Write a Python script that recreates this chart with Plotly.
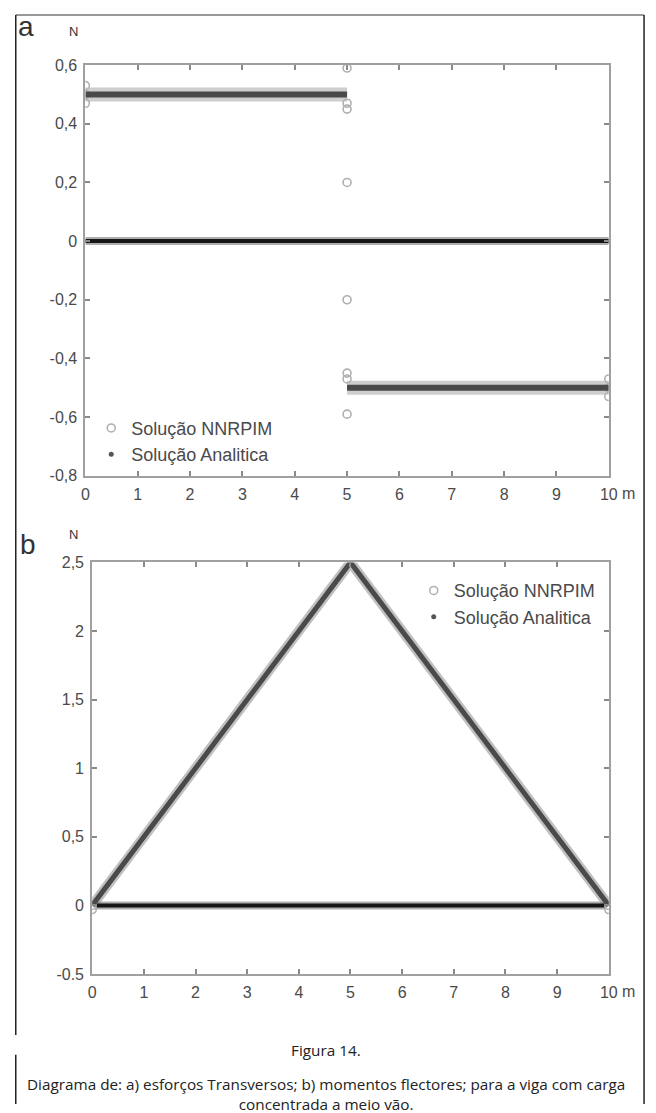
import plotly.graph_objects as go

W, H = 656, 1113

# ---------------- data ----------------
# (a) shear force
a_analytic_x = [0, 5, None, 5, 10]
a_analytic_y = [0.5, 0.5, None, -0.5, -0.5]
a_band_x = [0, 5, None, 5, 10]
a_band_y = [0.5, 0.5, None, -0.5, -0.5]
a_nnrpim_x = [0, 0, 0, 5, 5, 5, 5, 5, 5, 5, 5, 10, 10, 10]
a_nnrpim_y = [0.53, 0.50, 0.47, 0.59, 0.45, 0.47, 0.20, -0.20, -0.45, -0.47, -0.59, -0.47, -0.50, -0.53]
a_axis_x = [0, 10]
a_axis_y = [0, 0]

# (b) bending moment
b_analytic_x = [0, 5, 10]
b_analytic_y = [0, 2.5, 0]
b_nnrpim_x = [0, 0, 10, 10]
b_nnrpim_y = [0.0, -0.03, 0.0, -0.03]
b_axis_x = [0.05, 9.95]
b_axis_y = [0, 0]

x_ticks = [0, 1, 2, 3, 4, 5, 6, 7, 8, 9, 10]
x_ticktext = ["0", "1", "2", "3", "4", "5", "6", "7", "8", "9", "10"]
a_yticks = [0.6, 0.4, 0.2, 0, -0.2, -0.4, -0.6, -0.8]
a_yticktext = ["0,6", "0,4", "0,2", "0", "-0,2", "-0,4", "-0,6", "-0,8"]
b_yticks = [2.5, 2, 1.5, 1, 0.5, 0, -0.5]
b_yticktext = ["2,5", "2", "1,5", "1", "0,5", "0", "-0.5"]

names = ["Solução NNRPIM", "Solução Analitica"]
caption_title = "Figura 14."
caption_lines = ["Diagrama de: a) esforços Transversos; b) momentos flectores; para a viga com carga",
                 "concentrada a meio vão."]

# ---------------- helpers ----------------
def px_x(p):
    return p / W

def px_y(p):
    return 1 - p / H

BAND = "rgba(165,165,165,0.55)"
CORE = "#4a4a4a"
CIRC = "#b0b0b0"

fig = go.Figure()

# ---- panel a ----
fig.add_trace(go.Scatter(x=a_band_x, y=a_band_y, mode="lines", line=dict(color=BAND, width=14),
                         showlegend=False, hoverinfo="skip", xaxis="x", yaxis="y"))
fig.add_trace(go.Scatter(x=a_axis_x, y=a_axis_y, mode="lines", line=dict(color="rgba(120,120,120,0.6)", width=8),
                         showlegend=False, hoverinfo="skip", xaxis="x", yaxis="y"))
fig.add_trace(go.Scatter(x=a_axis_x, y=a_axis_y, mode="lines", line=dict(color="#161616", width=4),
                         showlegend=False, hoverinfo="skip", xaxis="x", yaxis="y"))
fig.add_trace(go.Scatter(x=a_nnrpim_x, y=a_nnrpim_y, mode="markers", name=names[0],
                         marker=dict(symbol="circle-open", size=8, color=CIRC, line=dict(width=1.6, color=CIRC)),
                         legend="legend", xaxis="x", yaxis="y"))
fig.add_trace(go.Scatter(x=a_analytic_x, y=a_analytic_y, mode="lines", line=dict(color=CORE, width=6),
                         showlegend=False, hoverinfo="skip", xaxis="x", yaxis="y"))
fig.add_trace(go.Scatter(x=[None], y=[None], mode="markers", name=names[1],
                         marker=dict(symbol="circle", size=5, color="#555"),
                         legend="legend", xaxis="x", yaxis="y"))

# ---- panel b ----
fig.add_trace(go.Scatter(x=b_analytic_x, y=b_analytic_y, mode="lines", line=dict(color="rgba(150,150,150,0.6)", width=10),
                         showlegend=False, hoverinfo="skip", xaxis="x2", yaxis="y2"))
fig.add_trace(go.Scatter(x=b_axis_x, y=b_axis_y, mode="lines", line=dict(color="rgba(120,120,120,0.6)", width=8),
                         showlegend=False, hoverinfo="skip", xaxis="x2", yaxis="y2"))
fig.add_trace(go.Scatter(x=b_axis_x, y=b_axis_y, mode="lines", line=dict(color="#161616", width=4),
                         showlegend=False, hoverinfo="skip", xaxis="x2", yaxis="y2"))
fig.add_trace(go.Scatter(x=b_nnrpim_x, y=b_nnrpim_y, mode="markers", name=names[0],
                         marker=dict(symbol="circle-open", size=8, color=CIRC, line=dict(width=1.6, color=CIRC)),
                         legend="legend2", xaxis="x2", yaxis="y2"))
fig.add_trace(go.Scatter(x=b_analytic_x, y=b_analytic_y, mode="lines", line=dict(color=CORE, width=5),
                         showlegend=False, hoverinfo="skip", xaxis="x2", yaxis="y2"))
fig.add_trace(go.Scatter(x=[None], y=[None], mode="markers", name=names[1],
                         marker=dict(symbol="circle", size=5, color="#555"),
                         legend="legend2", xaxis="x2", yaxis="y2"))

TICKFONT = dict(family="Liberation Sans, Arial, sans-serif", size=16, color="#4a4a4a")
axis_common = dict(showline=True, linewidth=2, linecolor="#a0a0a0", mirror="ticks",
                   ticks="inside", ticklen=5, tickwidth=1.5, tickcolor="#8a8a8a",
                   showgrid=False, zeroline=False, tickfont=TICKFONT, ticklabelstandoff=3)

fig.update_layout(
    width=W, height=H,
    margin=dict(l=0, r=0, t=0, b=0),
    paper_bgcolor="white", plot_bgcolor="white",
    xaxis=dict(domain=[px_x(83), px_x(617)], range=[0, 10], anchor="y",
               tickvals=x_ticks, ticktext=x_ticktext, **axis_common),
    yaxis=dict(domain=[px_y(475), px_y(58)], range=[-0.8, 0.6], anchor="x",
               tickvals=a_yticks, ticktext=a_yticktext, **axis_common),
    xaxis2=dict(domain=[px_x(90), px_x(617)], range=[0, 10], anchor="y2",
                tickvals=x_ticks, ticktext=x_ticktext, **axis_common),
    yaxis2=dict(domain=[px_y(981), px_y(563)], range=[-0.5, 2.5], anchor="x2",
                tickvals=b_yticks, ticktext=b_yticktext, **axis_common),
    legend=dict(x=px_x(89), y=px_y(408), xanchor="left", yanchor="top",
                bgcolor="rgba(0,0,0,0)", borderwidth=0,
                font=dict(family="Liberation Sans, Arial, sans-serif", size=18, color="#4a4a4a"),
                tracegroupgap=0, itemsizing="trace"),
    legend2=dict(x=px_x(418), y=px_y(573), xanchor="left", yanchor="top",
                 bgcolor="rgba(0,0,0,0)", borderwidth=0,
                 font=dict(family="Liberation Sans, Arial, sans-serif", size=18, color="#4a4a4a"),
                 tracegroupgap=0, itemsizing="trace"),
)

ann_font = dict(family="Liberation Sans, Arial, sans-serif", color="#333")
cap_font = dict(size=15.3, family="Open Sans, Noto Sans, sans-serif", color="#222")
annotations = [
    dict(text="a", x=px_x(22), y=px_y(19), font=dict(size=28, **ann_font)),
    dict(text="N", x=px_x(71), y=px_y(24), font=dict(size=13, **ann_font)),
    dict(text="b", x=px_x(24), y=px_y(545), font=dict(size=28, **ann_font)),
    dict(text="N", x=px_x(71), y=px_y(535), font=dict(size=13, **ann_font)),
    dict(text="m", x=px_x(637), y=px_y(493), font=dict(size=16, family=TICKFONT["family"], color="#4a4a4a")),
    dict(text="m", x=px_x(637), y=px_y(999), font=dict(size=16, family=TICKFONT["family"], color="#4a4a4a")),
    dict(text=caption_title, x=px_x(328), y=px_y(1058), font=cap_font),
    dict(text="<br>".join(caption_lines), x=px_x(328), y=px_y(1081), yanchor="top", font=cap_font),
]
for a in annotations:
    a.setdefault("yanchor", "middle")
    a.update(xref="paper", yref="paper", showarrow=False, xanchor="center")
fig.update_layout(annotations=annotations)

# outer frame
frame = [
    dict(x0=px_x(12), x1=px_x(653), y0=px_y(7), y1=px_y(7), color="#777"),
    dict(x0=px_x(653), x1=px_x(653), y0=px_y(7), y1=px_y(1113), color="#222"),
    dict(x0=px_x(12), x1=px_x(12), y0=px_y(7), y1=px_y(1043), color="#222"),
    dict(x0=px_x(12), x1=px_x(12), y0=px_y(1063), y1=px_y(1113), color="#222"),
]
fig.update_layout(shapes=[dict(type="line", xref="paper", yref="paper", x0=f["x0"], x1=f["x1"],
                               y0=f["y0"], y1=f["y1"], line=dict(color=f["color"], width=1.5))
                          for f in frame])

fig.write_html("out.html")
